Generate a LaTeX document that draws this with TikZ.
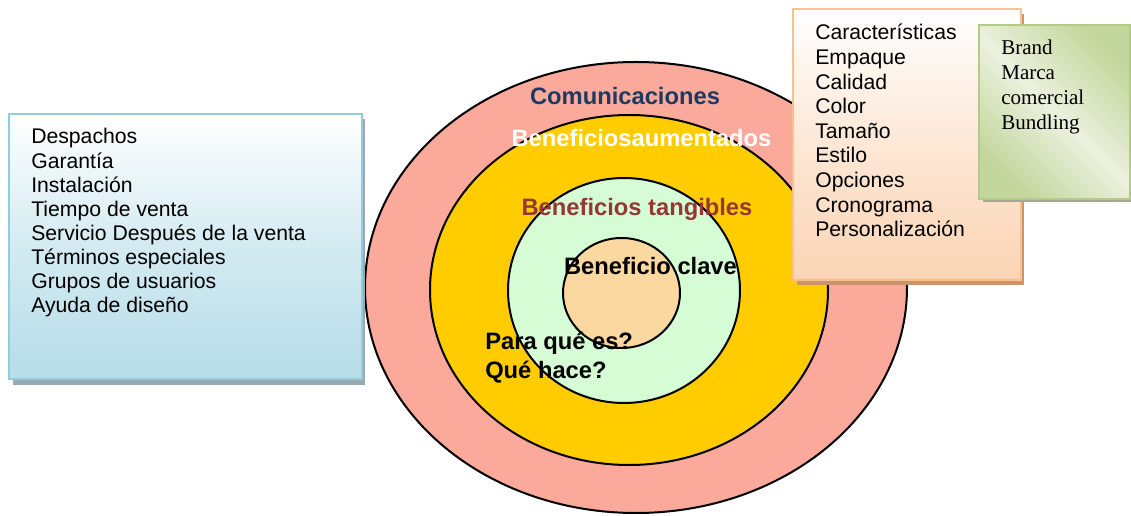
\documentclass[tikz,border=0pt]{standalone}
\usepackage{fontspec}
\setmainfont{Liberation Sans}
\newfontfamily\serifbox{Liberation Serif}
\usetikzlibrary{shapes.geometric}
\definecolor{ringout}{HTML}{FAA99B}
\definecolor{ringyel}{HTML}{FFCC00}
\definecolor{ringgrn}{HTML}{D5FCD5}
\definecolor{ringcore}{HTML}{FAD8A0}
\definecolor{navytxt}{HTML}{1F3A60}
\definecolor{redtxt}{HTML}{953735}
\definecolor{bluefill}{HTML}{B6DDE8}
\definecolor{blueedge}{HTML}{93CDDD}
\definecolor{orgfill}{HTML}{FBD4B4}
\definecolor{orgedge}{HTML}{FAC090}
\definecolor{grnfill}{HTML}{C3D69B}
\definecolor{grnlight}{HTML}{EBF1DE}
\definecolor{grnedge}{HTML}{B3CB86}
\definecolor{shblue}{HTML}{9AAAB4}
\definecolor{shorg}{HTML}{C8956C}
\definecolor{shgrn}{HTML}{A6A896}
\begin{document}
\begin{tikzpicture}[x=0.75pt,y=-0.75pt,
  ring/.style={ellipse,draw=black,line width=1.5pt,inner sep=0pt},
  lbl/.style={font=\fontsize{17.8}{21}\selectfont\bfseries,anchor=base,inner sep=0pt},
  boxnode/.style={rectangle,line width=1.5pt,inner sep=0pt},
  listtxt/.style={anchor=base west,inner sep=0pt,align=left}]
\useasboundingbox (0,0) rectangle (1131,516);
% rings
\node[ring,fill=ringout,minimum width=406.5pt,minimum height=338.25pt] (outer) at (636,287.5) {};
\node[ring,fill=ringyel,minimum width=298.5pt,minimum height=262.5pt] (aug) at (629,290) {};
\node[ring,fill=ringgrn,minimum width=174pt,minimum height=168.75pt] (tang) at (624,290.5) {};
\node[ring,fill=ringcore,minimum width=87.75pt,minimum height=82.5pt] (core) at (621.5,293) {};
% ring labels
\node[lbl,text=navytxt] (lcom) at (625,105) {Comunicaciones};
\node[lbl,text=white] (laug) at (641.5,147) {Beneficiosaumentados};
\node[lbl,text=redtxt] (ltan) at (637,216) {Beneficios tangibles};
\node[lbl,text=black] (lkey) at (650.5,275) {Beneficio clave};
\node[anchor=base west,inner sep=0pt,font=\fontsize{17.8}{21}\selectfont\bfseries] (lpara) at (485,350)
  {\begin{tabular}[t]{@{}l@{}}Para qué es?\\Qué hace?\end{tabular}};
% blue box
\fill[shblue] (13,119) rectangle (365,385);
\node[boxnode,draw=blueedge,top color=white,bottom color=bluefill,middle color=bluefill!60,minimum width=264.75pt,minimum height=198.75pt] (bluebox) at (185.5,246.5) {};
\node[listtxt,font=\fontsize{15.9}{18.1}\selectfont] (bluelist) at (31,144)
  {\begin{tabular}[t]{@{}l@{}}Despachos\\Garantía\\Instalación\\Tiempo de venta\\Servicio Después de la venta\\Términos especiales\\Grupos de usuarios\\Ayuda de diseño\end{tabular}};
% orange box
\fill[shorg] (797,14) rectangle (1024,285);
\node[boxnode,draw=orgedge,top color=white,bottom color=orgfill,middle color=orgfill!55,minimum width=171pt,minimum height=203.25pt] (orgbox) at (907,144.5) {};
\node[listtxt,font=\fontsize{15.9}{18.45}\selectfont] (orglist) at (815,40)
  {\begin{tabular}[t]{@{}l@{}}Características\\Empaque\\Calidad\\Color\\Tamaño\\Estilo\\Opciones\\Cronograma\\Personalización\end{tabular}};
% green box
\fill[shgrn] (983,30) rectangle (1133,202);
\node[boxnode,draw=grnedge,shading=axis,top color=grnfill,bottom color=grnfill,middle color=grnlight,shading angle=-45,minimum width=113.25pt,minimum height=130.5pt] (grnbox) at (1054.5,112) {};
\node[listtxt,font=\serifbox\fontsize{15.8}{18.75}\selectfont] (grnlist) at (1001,55)
  {\begin{tabular}[t]{@{}l@{}}Brand\\Marca\\comercial\\Bundling\end{tabular}};
\end{tikzpicture}
\end{document}
